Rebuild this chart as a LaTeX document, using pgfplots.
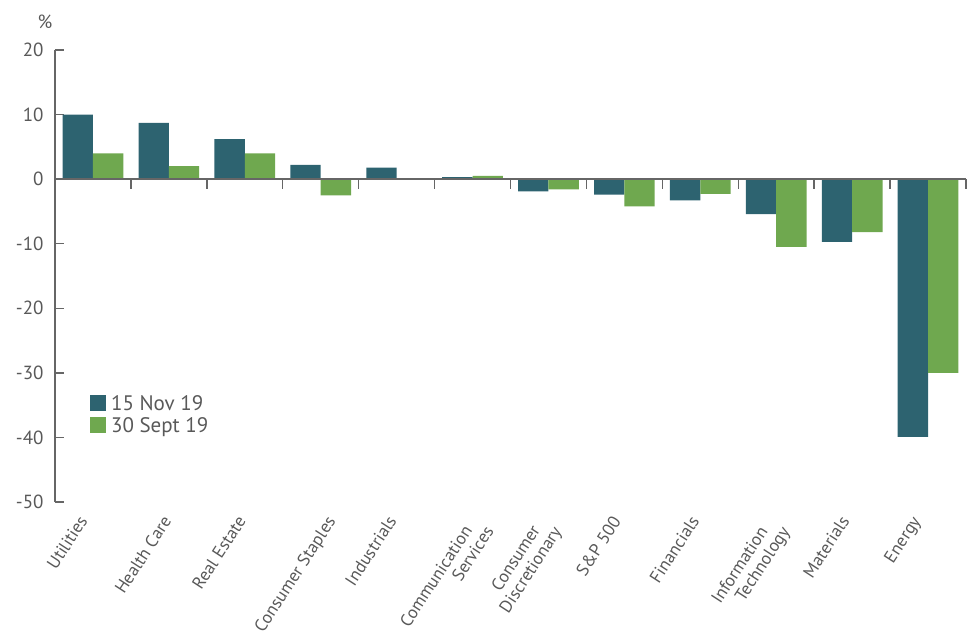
\documentclass[border=0pt]{standalone}
\usepackage{fontspec}
\setmainfont{PT Sans}
\usepackage{graphicx}
\usepackage{pgfplots}
\pgfplotsset{compat=1.18}
\definecolor{darkteal}{HTML}{2D6370}
\definecolor{lgreen}{HTML}{6FA84F}
\definecolor{axgray}{HTML}{666666}
\definecolor{txtgray}{HTML}{595959}
\newcommand\rl[1]{\rotatebox{57}{\begin{tabular}{@{}r@{}}#1\end{tabular}}}
\begin{document}
\begin{tikzpicture}
\begin{axis}[
  scale only axis,
  width=911bp, height=452bp,
  xmin=-0.5, xmax=11.5,
  ymin=-50, ymax=20,
  axis y line*=left,
  axis x line*=bottom,
  x axis line style={draw=none},
  xtick={0,...,11},
  x tick style={draw=none},
  xticklabels={\rl{Utilities}, \rl{Health Care}, \rl{Real Estate}, \rl{Consumer Staples}, \rl{Industrials},
    {\rl{Communication\hspace*{11bp}\\Services}}, {\rl{Consumer\hspace*{11bp}\\Discretionary}}, \rl{S\&P 500}, \rl{Financials},
    {\rl{Information\hspace*{12bp}\\Technology}}, \rl{Materials}, \rl{Energy}},
  xticklabel style={anchor=north, inner sep=0pt, xshift=-24bp, yshift=-12bp, text=txtgray,
    font=\fontsize{17.5bp}{18.5bp}\selectfont},
  y axis line style={axgray, line width=1.4bp},
  ytick={-50,-40,...,20},
  ytick align=inside,
  major tick length=9bp,
  y tick style={axgray, line width=1.4bp},
  yticklabel style={font=\fontsize{19bp}{21bp}\selectfont, text=txtgray, xshift=-8bp},
  /pgf/number format/assume math mode=true,
  clip=false,
  legend style={draw=none, fill=none, at={(rel axis cs:0.035,0.245)}, anchor=north west,
    font=\fontsize{21bp}{23bp}\selectfont, text=txtgray, row sep=2bp,
    /tikz/every odd column/.append style={column sep=3bp}},
  legend cell align=left,
  legend image code/.code={\fill[#1] (0bp,-7bp) rectangle (16bp,9bp);},
]
\addplot[draw=none, fill=darkteal, ybar, bar width=0.4, bar shift=-0.2]
  coordinates {(0,10.0) (1,8.7) (2,6.2) (3,2.2) (4,1.8) (5,0.3) (6,-1.9) (7,-2.4) (8,-3.3) (9,-5.4) (10,-9.7) (11,-39.9)};
\addlegendentry{15 Nov 19}
\addplot[draw=none, fill=lgreen, ybar, bar width=0.4, bar shift=0.2]
  coordinates {(0,4.0) (1,2.0) (2,4.0) (3,-2.5) (4,0.0) (5,0.5) (6,-1.6) (7,-4.2) (8,-2.3) (9,-10.5) (10,-8.2) (11,-30.0)};
\addlegendentry{30 Sept 19}
\draw[axgray, line width=1.4bp] (axis cs:-0.5,0) -- (axis cs:11.5,0);
\draw[axgray, line width=1.4bp]
  (axis cs:0.5,0) -- ([yshift=-10bp]axis cs:0.5,0)
  (axis cs:1.5,0) -- ([yshift=-10bp]axis cs:1.5,0)
  (axis cs:2.5,0) -- ([yshift=-10bp]axis cs:2.5,0)
  (axis cs:3.5,0) -- ([yshift=-10bp]axis cs:3.5,0)
  (axis cs:4.5,0) -- ([yshift=-10bp]axis cs:4.5,0)
  (axis cs:5.5,0) -- ([yshift=-10bp]axis cs:5.5,0)
  (axis cs:6.5,0) -- ([yshift=-10bp]axis cs:6.5,0)
  (axis cs:7.5,0) -- ([yshift=-10bp]axis cs:7.5,0)
  (axis cs:8.5,0) -- ([yshift=-10bp]axis cs:8.5,0)
  (axis cs:9.5,0) -- ([yshift=-10bp]axis cs:9.5,0)
  (axis cs:10.5,0) -- ([yshift=-10bp]axis cs:10.5,0)
  (axis cs:11.5,0) -- ([yshift=-10bp]axis cs:11.5,0);
\node[text=txtgray, font=\fontsize{19bp}{21bp}\selectfont] at ([xshift=-10bp,yshift=28bp]rel axis cs:0,1) {\%};
\end{axis}
\pgfresetboundingbox
\path (-55bp,-131bp) rectangle (917bp,502bp);
\end{tikzpicture}
\end{document}
